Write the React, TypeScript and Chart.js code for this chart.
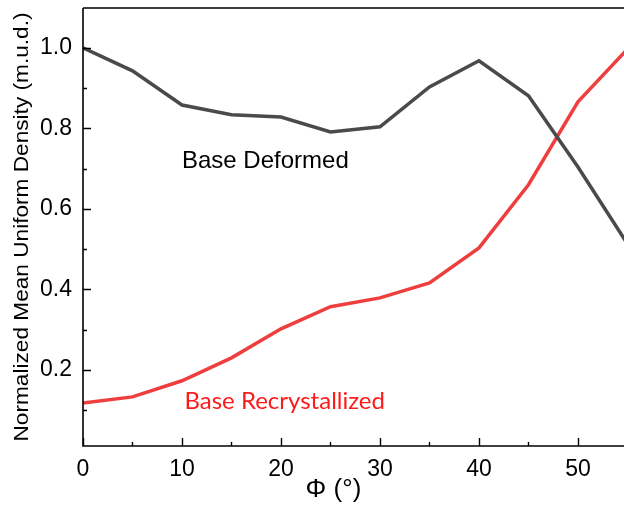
import React, { useEffect, useRef } from "react";
import { Chart, registerables } from "chart.js";

Chart.register(...registerables);

// ---- data ----
const angles = [0, 5, 10, 15, 20, 25, 30, 35, 40, 45, 50, 55];
const deformed = [1.0, 0.943, 0.858, 0.834, 0.828, 0.791, 0.804, 0.903, 0.968, 0.881, 0.704, 0.513];
const recrystallized = [0.118, 0.133, 0.173, 0.23, 0.302, 0.357, 0.379, 0.416, 0.503, 0.66, 0.866, 0.997];

const xTickValues = [0, 5, 10, 15, 20, 25, 30, 35, 40, 45, 50];
const xLabelValues = [0, 10, 20, 30, 40, 50];
const yTickValues = [0.1, 0.2, 0.3, 0.4, 0.5, 0.6, 0.7, 0.8, 0.9, 1.0];
const yLabelValues = [0.2, 0.4, 0.6, 0.8, 1.0];

const xTitle = "Φ (°)";
const yTitle = "Normalized Mean Uniform Density (m.u.d.)";
const labelDeformed = { text: "Base Deformed", x: 10, y: 0.719 };
const labelRecryst = { text: "Base Recrystallized", x: 10.25, y: 0.123 };

const BLACK_LINE = "#4a4a4a";
const RED_LINE = "#ef3e3e";
const SANS = "Liberation Sans";

const isLabel = (v: number, list: number[]) => list.some((l) => Math.abs(l - v) < 1e-6);

const framePlugin = {
  id: "frame",
  afterDatasetsDraw(chart: any) {
    const { ctx, chartArea, scales } = chart;
    const xs = scales.x;
    const ys = scales.y;
    ctx.save();
    ctx.strokeStyle = "#000";
    ctx.lineWidth = 1.6;
    ctx.beginPath();
    ctx.moveTo(chartArea.left, chartArea.top);
    ctx.lineTo(chartArea.left, chartArea.bottom);
    ctx.lineTo(chartArea.right + 2, chartArea.bottom);
    ctx.moveTo(chartArea.left, chartArea.top);
    ctx.lineTo(chartArea.right + 2, chartArea.top);
    ctx.stroke();
    ctx.lineWidth = 1.4;
    ctx.beginPath();
    yTickValues.forEach((v) => {
      const py = Math.round(ys.getPixelForValue(v)) + 0.5;
      const len = isLabel(v, yLabelValues) ? 8 : 4;
      ctx.moveTo(chartArea.left, py);
      ctx.lineTo(chartArea.left + len, py);
    });
    xTickValues.forEach((v) => {
      const px = Math.round(xs.getPixelForValue(v)) + 0.5;
      const len = isLabel(v, xLabelValues) ? 8 : 4;
      ctx.moveTo(px, chartArea.bottom);
      ctx.lineTo(px, chartArea.bottom - len);
    });
    ctx.stroke();

    ctx.textBaseline = "middle";
    ctx.textAlign = "left";
    ctx.fillStyle = "#000";
    ctx.font = `24px "${SANS}"`;
    ctx.fillText(labelDeformed.text, xs.getPixelForValue(labelDeformed.x), ys.getPixelForValue(labelDeformed.y), 168);
    ctx.fillStyle = "#ff1a1a";
    ctx.font = `24px Lato`;
    ctx.fillText(labelRecryst.text, xs.getPixelForValue(labelRecryst.x), ys.getPixelForValue(labelRecryst.y), 202);

    ctx.fillStyle = "#000";
    ctx.textAlign = "center";
    ctx.font = `26px "${SANS}"`;
    ctx.fillText(xTitle, xs.getPixelForValue(25.3), 490);

    ctx.font = `20px "${SANS}"`;
    const w = ctx.measureText(yTitle).width;
    const target = 429;
    ctx.translate(22, (chartArea.top + chartArea.bottom) / 2);
    ctx.rotate(-Math.PI / 2);
    ctx.scale(target / w, 1);
    ctx.fillText(yTitle, 0, 0);
    ctx.restore();
  },
};

export default function App() {
  const canvasRef = useRef<HTMLCanvasElement | null>(null);

  useEffect(() => {
    let chart: any = null;
    let cancelled = false;
    const build = () => {
      if (cancelled || !canvasRef.current) return;
      chart = new Chart(canvasRef.current, {
        type: "line",
        data: {
          datasets: [
            {
              label: "Base Deformed",
              data: angles.map((a, i) => ({ x: a, y: deformed[i] })),
              borderColor: BLACK_LINE,
              borderWidth: 3.5,
              pointRadius: 0,
              tension: 0,
            },
            {
              label: "Base Recrystallized",
              data: angles.map((a, i) => ({ x: a, y: recrystallized[i] })),
              borderColor: RED_LINE,
              borderWidth: 3.5,
              pointRadius: 0,
              tension: 0,
            },
          ],
        },
        options: {
          responsive: false,
          animation: false,
          layout: { padding: { top: 8, right: 0, left: 0, bottom: 0 } },
          plugins: {
            legend: { display: false },
            tooltip: { enabled: false },
          },
          scales: {
            x: {
              type: "linear",
              min: 0,
              max: 54.65,
              grid: { display: false, drawTicks: false },
              border: { display: false },
              afterBuildTicks: (s: any) => {
                s.ticks = xLabelValues.map((v) => ({ value: v }));
              },
              afterFit: (s: any) => {
                s.height = 64;
                s.paddingLeft = 0;
                s.paddingRight = 0;
              },
              ticks: {
                padding: 10,
                color: "#000",
                maxRotation: 0,
                autoSkip: false,
                font: { family: `"${SANS}"`, size: 23 },
                callback: (v: any) => String(v),
              },
            },
            y: {
              type: "linear",
              min: 0.011,
              max: 1.099,
              grid: { display: false, drawTicks: false },
              border: { display: false },
              afterBuildTicks: (s: any) => {
                s.ticks = yLabelValues.map((v) => ({ value: v }));
              },
              afterFit: (s: any) => {
                s.width = 83;
                s.paddingTop = 0;
                s.paddingBottom = 0;
              },
              ticks: {
                padding: 11,
                color: "#000",
                autoSkip: false,
                font: { family: `"${SANS}"`, size: 23 },
                callback: (v: any) => Number(v).toFixed(1),
              },
            },
          },
        },
        plugins: [framePlugin],
      });
    };
    const fontsApi: any = (document as any).fonts;
    if (fontsApi && fontsApi.load) {
      Promise.all([fontsApi.load(`20px "${SANS}"`), fontsApi.load(`20px Lato`)])
        .catch(() => null)
        .then(build);
    } else {
      build();
    }
    return () => {
      cancelled = true;
      if (chart) chart.destroy();
    };
  }, []);

  return (
    <div style={{ position: "fixed", left: 0, top: 0, width: 624, height: 510, background: "#fff" }}>
      <canvas ref={canvasRef} width={624} height={510} />
    </div>
  );
}
